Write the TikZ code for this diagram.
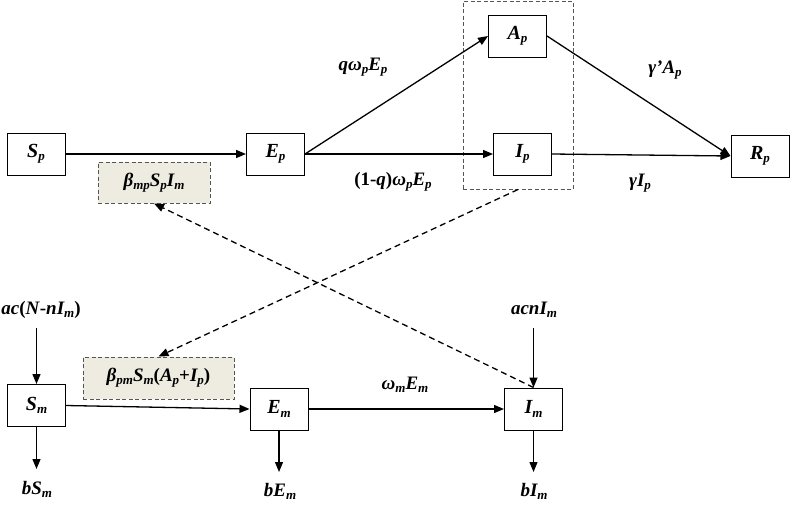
\documentclass[tikz,border=0pt]{standalone}
\usepackage{fontspec}
\setmainfont{Liberation Serif}
\usetikzlibrary{arrows.meta}
\definecolor{beige}{HTML}{EEECE1}
\definecolor{dashgray}{HTML}{555555}
\newcommand{\subs}[1]{\raisebox{-3.2pt}{\fontsize{13}{13}\selectfont #1}}
\newcommand{\up}[1]{\textup{#1}}
\begin{document}
\begin{tikzpicture}[x=1pt,y=-1pt,
  box/.style={draw, line width=1pt, minimum width=58pt, minimum height=42pt, inner sep=0pt,
    font=\bfseries\itshape\fontsize{20}{20}\selectfont},
  ratebox/.style={draw=dashgray, dash pattern=on 4pt off 2.5pt, line width=1pt, fill=beige, inner sep=0pt,
    font=\bfseries\itshape\fontsize{19}{19}\selectfont},
  lbl/.style={inner sep=1pt, font=\bfseries\itshape\fontsize{19}{19}\selectfont},
  flow/.style={line width=1.3pt, -{Triangle[length=10pt,width=8pt]}},
  dasharrow/.style={line width=1.3pt, dash pattern=on 6pt off 4pt, -{Triangle[length=10pt,width=8pt]}},
  grpbox/.style={draw=dashgray, dash pattern=on 4pt off 2.5pt, line width=1pt, inner sep=0pt}
]
\useasboundingbox (0,0) rectangle (792,504);

% group box
\node[grpbox, minimum width=110pt, minimum height=188pt] (grp) at (518,95) {};

% human compartments
\node[box] (Sp) at (36,154) {S\subs{p}};
\node[box] (Ep) at (275.5,154) {E\subs{p}};
\node[box] (Ap) at (517.5,36) {A\subs{p}};
\node[box] (Ip) at (522.5,154) {I\subs{p}};
\node[box] (Rp) at (760,156) {R\subs{p}};

% mosquito compartments
\node[box] (Sm) at (36.5,405.5) {S\subs{m}};
\node[box] (Em) at (279,409) {E\subs{m}};
\node[box] (Im) at (533.5,409) {I\subs{m}};

% rate boxes
\node[ratebox, minimum width=112pt, minimum height=41pt] (bmp) at (154,182.5) {β\subs{mp}S\subs{p}I\subs{m}};
\node[ratebox, minimum width=151pt, minimum height=42pt] (bpm) at (158.5,378) {β\subs{pm}S\subs{m}\up{(}A\subs{p}\up{+}I\subs{p}\up{)}};

% labels
\node[lbl] (lqw) at (363,67) {qω\subs{p}E\subs{p}};
\node[lbl] (l1q) at (393,182) {\up{(1-}q\up{)}ω\subs{p}E\subs{p}};
\node[lbl] (lga) at (665,70) {γ’A\subs{p}};
\node[lbl] (lgi) at (640,183) {γI\subs{p}};
\node[lbl] (lwm) at (405,385) {ω\subs{m}E\subs{m}};
\node[lbl] (lac) at (41,310) {ac\up{(}N\up{-}nI\subs{m}\up{)}};
\node[lbl] (lacn) at (534,310) {acnI\subs{m}};
\node[lbl] (lbs) at (37,489) {bS\subs{m}};
\node[lbl] (lbe) at (280,491) {bE\subs{m}};
\node[lbl] (lbi) at (534,491) {bI\subs{m}};

% free ends
\coordinate (acS) at (36.5,328);
\coordinate (acnI) at (533.5,328);
\coordinate (outS) at (36.5,469);
\coordinate (outE) at (279,472);
\coordinate (outI) at (533.5,472);

% human flows
\draw[flow] (Sp) -- (Ep);
\draw[flow] (Ep.east) -- (Ap.west);
\draw[flow] (Ep.east) -- (Ip.west);
\draw[flow] (Ap.east) -- (Rp.west);
\draw[flow] (Ip.east) -- (Rp.west);

% mosquito flows
\draw[flow] (Sm.east) -- (Em.west);
\draw[flow] (Em) -- (Im);
\draw[flow] (acS) -- (Sm.north);
\draw[flow] (acnI) -- (Im.north);
\draw[flow] (Sm.south) -- (outS);
\draw[flow] (Em.south) -- (outE);
\draw[flow] (Im.south) -- (outI);

% infection links
\draw[dasharrow] (grp.south) -- (bpm.north);
\draw[dasharrow] (Im.north) -- (bmp.south);
\end{tikzpicture}
\end{document}
